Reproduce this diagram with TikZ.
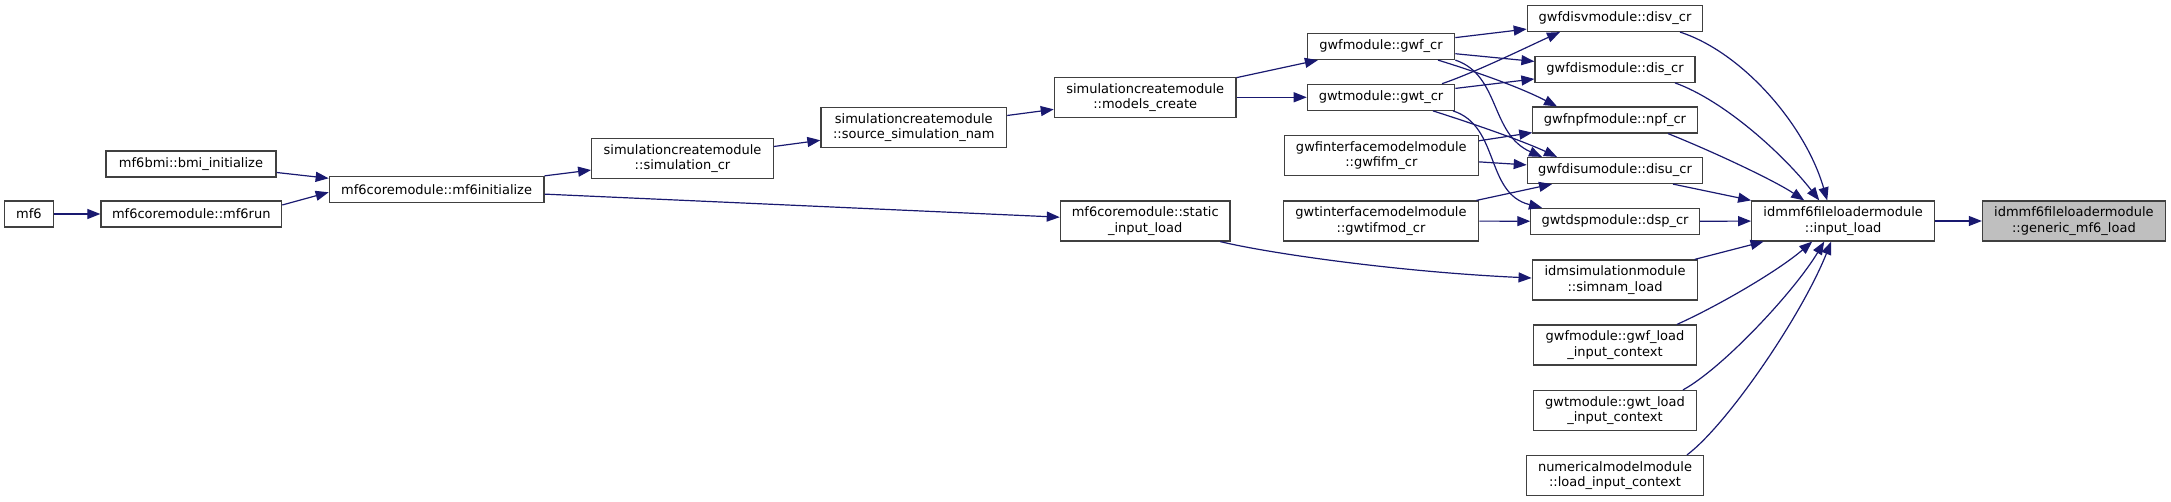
\documentclass[tikz,border=0pt]{standalone}
\usepackage{fontspec}
\setmainfont{DejaVu Sans}
\usetikzlibrary{arrows.meta}
\definecolor{edgeblue}{RGB}{25,25,112}
\definecolor{boxgray}{RGB}{64,64,64}
\definecolor{selgray}{RGB}{191,191,191}

\begin{document}
\begin{tikzpicture}[x=1pt,y=-1pt,
        every node/.style={font=\fontsize{13}{15.3}\selectfont},
        box/.style={draw=boxgray,line width=1.2pt,fill=white,inner sep=0pt,
                    minimum height=26pt,align=center},
        tall/.style={box,minimum height=40pt},
        edge/.style={draw=edgeblue,line width=1.2pt,
                     -{Triangle[length=13pt,width=10pt]}}]
      \useasboundingbox (0,0) rectangle (2171,502);
      % left part
      \node[box,minimum width=49pt]    (mf)     at (29,214)      {mf6};
      \node[box,minimum width=180.7pt] (run)    at (191.3,214)   {mf6coremodule::mf6run};
      \node[box,minimum width=170pt]   (bmi)    at (191,164)     {mf6bmi::bmi\_initialize};
      \node[box,minimum width=214.7pt] (init)   at (436.6,189.3) {mf6coremodule::mf6initialize};
      \node[tall,minimum width=181.6pt] (simcr)  at (682.5,158.7) {simulationcreatemodule\\::simulation\_cr};
      \node[tall,minimum width=185.7pt] (srcnam) at (913.8,127.8) {simulationcreatemodule\\::source\_simulation\_nam};
      \node[tall,minimum width=181.7pt] (models) at (1145.2,97.3) {simulationcreatemodule\\::models\_create};
      \node[tall,minimum width=169.7pt] (static) at (1145.2,221)  {mf6coremodule::static\\\_input\_load};
      % model create column
      \node[box,minimum width=147.4pt]  (gwfcr)  at (1381,46.5)   {gwfmodule::gwf\_cr};
      \node[box,minimum width=147.4pt]  (gwtcr)  at (1381,97.3)   {gwtmodule::gwt\_cr};
      \node[tall,minimum width=194pt]   (gwfifm) at (1381.3,155.7) {gwfinterfacemodelmodule\\::gwfifm\_cr};
      \node[tall,minimum width=195.4pt] (gwtifm) at (1381,221)    {gwtinterfacemodelmodule\\::gwtifmod\_cr};
      % package create column
      \node[box,minimum width=175.4pt]  (disv)   at (1615,18.5)   {gwfdisvmodule::disv\_cr};
      \node[box,minimum width=160pt]    (dis)    at (1615,69.3)   {gwfdismodule::dis\_cr};
      \node[box,minimum width=164.3pt]  (npf)    at (1615,120)    {gwfnpfmodule::npf\_cr};
      \node[box,minimum width=175.4pt]  (disu)   at (1615,170.5)  {gwfdisumodule::disu\_cr};
      \node[box,minimum width=168.3pt]  (dsp)    at (1615,221.3)  {gwtdspmodule::dsp\_cr};
      \node[tall,minimum width=165.7pt] (simnam) at (1615,280)    {idmsimulationmodule\\::simnam\_load};
      \node[tall,minimum width=163.4pt] (gwfctx) at (1615,345)    {gwfmodule::gwf\_load\\\_input\_context};
      \node[tall,minimum width=163.4pt] (gwtctx) at (1615,410.5)  {gwtmodule::gwt\_load\\\_input\_context};
      \node[tall,minimum width=177.7pt] (numctx) at (1615,475.5)  {numericalmodelmodule\\::load\_input\_context};
      % loaders
      \node[tall,minimum width=183pt]   (inload) at (1843.2,221)  {idmmf6fileloadermodule\\::input\_load};
      \node[tall,minimum width=183pt,fill=selgray] (generic) at (2073.9,221) {idmmf6fileloadermodule\\::generic\_mf6\_load};

      \foreach \a/\b in {mf/run,init/simcr,init/static,simcr/srcnam,srcnam/models,
                         models/gwfcr,models/gwtcr,gwfcr/disv,gwfcr/dis,gwtcr/dis,
                         gwfifm/npf,gwfifm/disu,gwtifm/disu,gwtifm/dsp,
                         dsp/inload,simnam/inload,inload/generic}{
        \draw[edge] (\a)--(\b);
      }
      \draw[edge] ([yshift=9pt]run.east) -- ([yshift=-3pt]init.west);
      \draw[edge] ([yshift=-8.5pt]bmi.east) -- ([yshift=11pt]init.west);
      \draw[edge] ([xshift=57pt]gwfcr.south) .. controls +(42,13) and +(-37,-19) .. ([xshift=-58pt]npf.north);
      \draw[edge] (gwfcr.south east) .. controls +(45,15) and +(-52,-23) .. ([xshift=-73pt]disu.north);
      \draw[edge] ([xshift=61pt]gwtcr.north) .. controls +(35,-12) and +(-30,13.5) .. ([xshift=-55pt]disv.south);
      \draw[edge] ([xshift=52pt]gwtcr.south) .. controls +(47,15) and +(-32,-15) .. ([xshift=-58pt]disu.north);
      \draw[edge] ([xshift=72pt]gwtcr.south) .. controls +(47,15) and +(-57,-14) .. ([xshift=-73pt]dsp.north);
      \draw[edge] ([xshift=75pt]static.south) .. controls +(50,12) and +(-132,-6) .. ([yshift=2pt]simnam.west);
      \draw[edge] ([xshift=65pt]disv.south) .. controls +(62,20) and +(-22,-76) .. ([xshift=-16pt]inload.north);
      \draw[edge] ([xshift=60pt]dis.south) .. controls +(50,18) and +(-35,-45) .. ([xshift=-24pt]inload.north);
      \draw[edge] ([xshift=53pt]npf.south) .. controls +(45,18) and +(-30,-20) .. ([xshift=-39pt]inload.north);
      \draw[edge] ([xshift=58pt]disu.south) -- (inload.north west);
      \draw[edge] ([xshift=62pt]gwfctx.north) .. controls +(40,-18) and +(-35,30) .. ([xshift=-31pt]inload.south);
      \draw[edge] ([xshift=68pt]gwtctx.north) .. controls +(40,-22) and +(-30,50) .. ([xshift=-19pt]inload.south);
      \draw[edge] ([xshift=72pt]numctx.north) .. controls +(40,-30) and +(-30,75) .. ([xshift=-12pt]inload.south);
    \end{tikzpicture}
\end{document}
